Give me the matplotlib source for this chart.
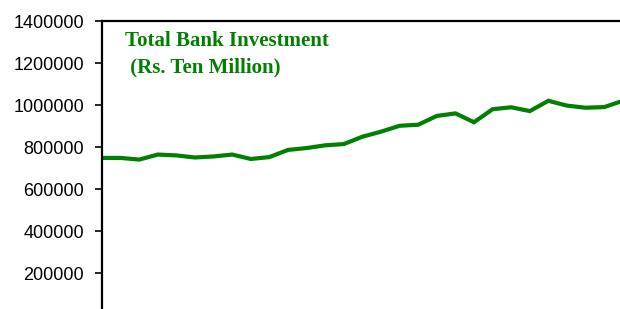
import numpy as np
import matplotlib.pyplot as plt

# Total bank investment (Rs. Ten Million)
periods = np.arange(29)
investment = [748000, 748000, 740000, 764000, 760000, 750000, 755000, 764000,
              743000, 752000, 786000, 795000, 808000, 814000, 849000, 873000,
              901000, 906000, 948000, 960000, 918000, 980000, 989000, 971000,
              1020000, 997000, 987000, 990000, 1020000]
yticks = np.arange(0, 1400001, 200000)

W, H = 620, 309
fig = plt.figure(figsize=(W / 100, H / 100), dpi=100)

# axes runs past the bottom and right edges of the figure, as in the original
left, top, bottom = 102, 21, 315
right = 102 + 18.6 * 29
ax = fig.add_axes([left / W, (H - bottom) / H, (right - left) / W, (bottom - top) / H])

ax.plot(periods, investment, color='#008000', linewidth=3.0, solid_joinstyle='miter')
ax.set_xlim(0, 29)
ax.set_ylim(0, 1400000)
ax.set_yticks(yticks)
ax.set_yticklabels([str(t) for t in yticks], fontfamily='Liberation Sans', fontsize=13)
ax.set_xticks([])
ax.tick_params(axis='y', direction='out', length=5, width=1.2, pad=8, colors='black')

for side in ['left', 'top']:
    ax.spines[side].set_linewidth(1.6)
ax.spines['right'].set_visible(False)
ax.spines['bottom'].set_visible(False)

fig.text(125 / W, 1 - 46 / H, 'Total Bank Investment', color='#008000',
         fontfamily='Liberation Serif', fontweight='bold', fontsize=15, va='baseline')
fig.text(125 / W, 1 - 72 / H, ' (Rs. Ten Million)', color='#008000',
         fontfamily='Liberation Serif', fontweight='bold', fontsize=15, va='baseline')

fig.savefig('out.png', dpi=100)
